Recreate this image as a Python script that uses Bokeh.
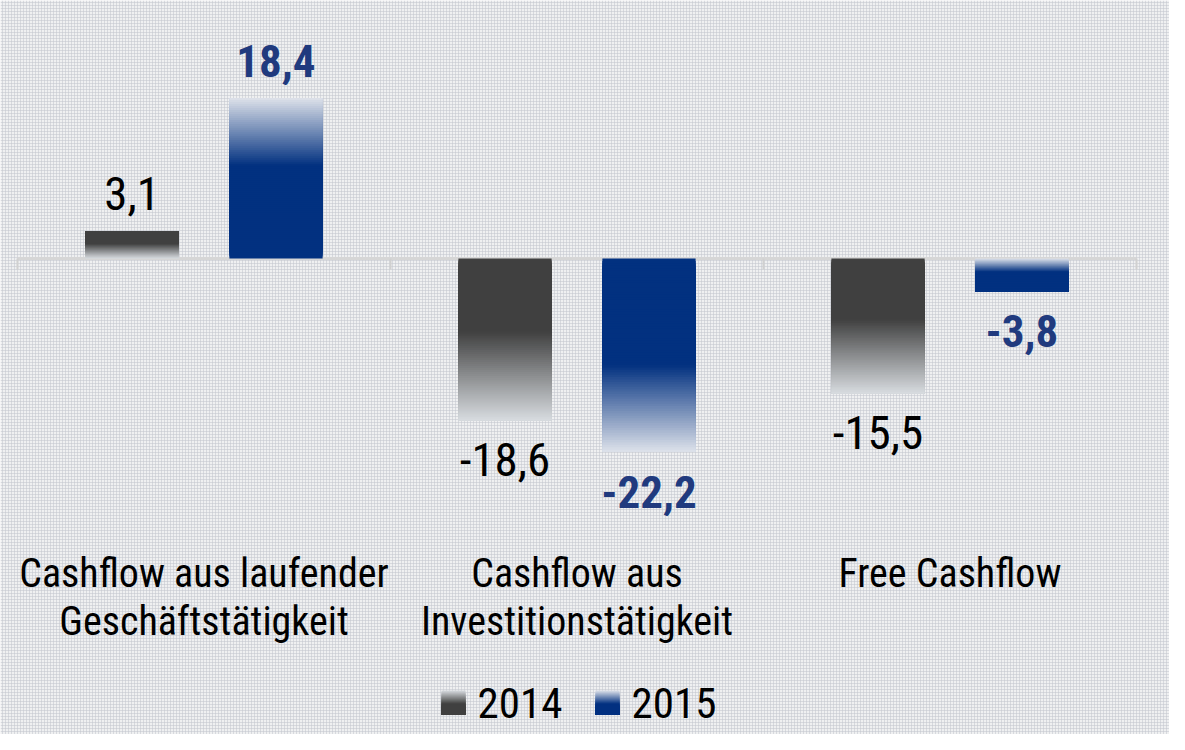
from bokeh.plotting import figure
from bokeh.models import Range1d, BoxAnnotation, ColumnDataSource
from bokeh.core.properties import value
from bokeh.embed import file_html
from bokeh.resources import INLINE

# ---------------- data ----------------
categories = ["Cashflow aus laufender\nGeschäftstätigkeit",
              "Cashflow aus\nInvestitionstätigkeit",
              "Free Cashflow"]
years = ["2014", "2015"]
values_2014 = [3.1, -18.6, -15.5]
values_2015 = [18.4, -22.2, -3.8]

# ---------------- style ----------------
FONT = "Roboto Condensed, DejaVu Sans Condensed, Liberation Sans"
dark_colors = {"2014": (64, 64, 64), "2015": (2, 49, 128)}
light_colors = {"2014": (216, 220, 224), "2015": (222, 226, 234)}
label_colors = {"2014": "#000000", "2015": "#203a7e"}
label_styles = {"2014": "normal", "2015": "bold"}
label_sizes = {"2014": 47, "2015": 45}
CAT_SIZE = 40
LEG_SIZE = 43
BASE_SHIFT = 0.36  # baseline correction (em) for the svg text rendering
# whether the pale end of each bar's gradient sits at the far end (True) or at the zero line
fade_far = {"2014": [False, True, True], "2015": [True, True, False]}
fade_len = {"2014": [0.55, 0.55, 0.55], "2015": [0.42, 0.45, 0.4]}

W, H = 1169, 734
PX_PER_CAT = 373.0
X0_PX = 17.0
PX_PER_UNIT = 8.72
ZERO_PX = 258.0
x_start = -X0_PX / PX_PER_CAT
x_end = (W - X0_PX) / PX_PER_CAT
y_end = ZERO_PX / PX_PER_UNIT
y_start = -(H - ZERO_PX) / PX_PER_UNIT


def dx(px):
    return px / PX_PER_CAT


def dy(px):
    return px / PX_PER_UNIT


def X(fx):
    return x_start + fx / PX_PER_CAT


def Y(fy):
    return y_end - fy / PX_PER_UNIT


def mix(c1, c2, s):
    r = [round(a + (b - a) * s) for a, b in zip(c1, c2)]
    return "#%02x%02x%02x" % tuple(r)


p = figure(width=W, height=H, output_backend="svg", toolbar_location=None,
           x_range=Range1d(x_start, x_end), y_range=Range1d(y_start, y_end),
           min_border=0, background_fill_color="#eff0f1", border_fill_color="#eff0f1",
           outline_line_color=None)
p.axis.visible = False
p.grid.visible = False

# background texture
p.add_layout(BoxAnnotation(fill_alpha=0, line_color=None, hatch_pattern="cross",
                           hatch_scale=3, hatch_weight=1, hatch_color="#c3c7cd",
                           hatch_alpha=0.55, level="underlay"))

# zero line with category ticks
ncat = len(categories)
p.segment(x0=[0], y0=[0], x1=[ncat], y1=[0], line_color="#d6d6d6", line_width=3)
p.segment(x0=list(range(ncat + 1)), y0=[0] * (ncat + 1),
          x1=list(range(ncat + 1)), y1=[-dy(11)] * (ncat + 1),
          line_color="#d0d0d0", line_width=2)

# bars as gradient slices
BAR_W = 0.25
offsets = {"2014": -0.193, "2015": 0.193}
series = {"2014": values_2014, "2015": values_2015}
N = 80
sl = dict(left=[], right=[], top=[], bottom=[], color=[])
for yr in years:
    for i, v in enumerate(series[yr]):
        xc = i + 0.5 + offsets[yr]
        for k in range(N):
            t0 = k / N
            tm = (k + 0.5) / N
            fl = fade_len[yr][i]
            if fade_far[yr][i]:
                s = 0.0 if tm <= 1 - fl else (tm - (1 - fl)) / fl
            else:
                s = 0.0 if tm >= fl else 1 - tm / fl
            col = mix(dark_colors[yr], light_colors[yr], s)
            a, b = t0 * v, v
            sl["left"].append(xc - BAR_W / 2)
            sl["right"].append(xc + BAR_W / 2)
            sl["top"].append(max(a, b))
            sl["bottom"].append(min(a, b))
            sl["color"].append(col)
p.quad(left="left", right="right", top="top", bottom="bottom", fill_color="color",
       line_color=None, source=ColumnDataSource(sl))

# value labels
for yr in years:
    xs, ys, txt = [], [], []
    fs = label_sizes[yr]
    for i, v in enumerate(series[yr]):
        xs.append(i + 0.5 + offsets[yr])
        base = v + dy(21) if v >= 0 else v - dy(56)
        ys.append(base + dy(BASE_SHIFT * fs))
        txt.append(("%.1f" % v).replace(".", ","))
    p.text(x=xs, y=ys, text=txt, text_font=value(FONT), text_font_size="%dpx" % fs,
           text_font_style=label_styles[yr], text_color=label_colors[yr],
           text_align="center", text_baseline="alphabetic")

# category labels
cx, cy, ct = [], [], []
for i, c in enumerate(categories):
    for j, line in enumerate(c.split("\n")):
        cx.append(i + 0.5)
        cy.append(Y(587 + j * 48 - BASE_SHIFT * CAT_SIZE))
        ct.append(line)
p.text(x=cx, y=cy, text=ct, text_font=value(FONT), text_font_size="%dpx" % CAT_SIZE,
       text_color="#000000", text_align="center", text_baseline="alphabetic")

# legend (manual)
leg_sq_left = {"2014": 441, "2015": 595}
leg_txt_left = {"2014": 477, "2015": 631}
SQ = 24
SQ_TOP = 690
lg = dict(left=[], right=[], top=[], bottom=[], color=[])
M = 24
for yr in years:
    l = leg_sq_left[yr]
    for k in range(M):
        tm = (k + 0.5) / M
        s = 0.0 if tm >= 0.55 else 1 - tm / 0.55
        lg["left"].append(X(l))
        lg["right"].append(X(l + SQ))
        lg["top"].append(Y(SQ_TOP + SQ) + dy(SQ) * (1 - k / M))
        lg["bottom"].append(Y(SQ_TOP + SQ))
        lg["color"].append(mix(dark_colors[yr], light_colors[yr], s))
p.quad(left="left", right="right", top="top", bottom="bottom", fill_color="color",
       line_color=None, source=ColumnDataSource(lg))
p.text(x=[X(leg_txt_left[yr]) for yr in years],
       y=[Y(718 - BASE_SHIFT * LEG_SIZE)] * len(years), text=years,
       text_font=value(FONT), text_font_size="%dpx" % LEG_SIZE, text_color="#000000",
       text_align="left", text_baseline="alphabetic")

open("out.html", "w").write(file_html(p, INLINE))
